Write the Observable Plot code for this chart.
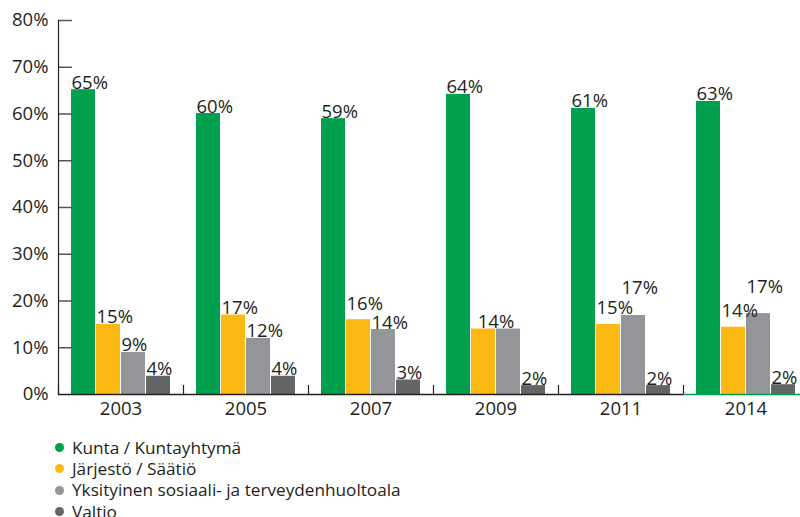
<!DOCTYPE html>
<html><head><meta charset="utf-8">
<script src="https://cdn.jsdelivr.net/npm/d3@7"></script>
<script src="https://cdn.jsdelivr.net/npm/@observablehq/plot@0.6"></script>
<style>
body{margin:0;background:#fff;font-family:"Open Sans",sans-serif;color:#231f20;}
#legend{margin-left:54.5px;padding-top:7px;}
.item{display:flex;align-items:center;height:21.3px;font-size:17.2px;white-space:nowrap;}
.item .lbl{display:block;line-height:20px;height:20px;}
.dot{width:9px;height:9px;border-radius:50%;margin-right:8.5px;flex:none;}
</style></head><body><div id="chart"></div><div id="legend"></div>
<script>
const years = ["2003","2005","2007","2009","2011","2014"];
const series = ["Kunta / Kuntayhtymä","Järjestö / Säätiö","Yksityinen sosiaali- ja terveydenhuoltoala","Valtio"];
const kunta = [65.2, 60.1, 59.0, 64.2, 61.2, 62.7];
const jarjesto = [15.0, 17.0, 16.0, 14.0, 15.0, 14.4];
const yksityinen = [9.0, 12.0, 13.9, 14.0, 16.9, 17.3];
const valtio = [3.9, 3.9, 3.1, 1.9, 1.9, 2.1];
const colors = ["#00a04f","#fdb913","#939598","#636466"];
const yTicks = [0,10,20,30,40,50,60,70,80];

const seriesValues = [kunta, jarjesto, yksityinen, valtio];
const rows = years.flatMap((year,i)=> series.map((s,j)=>({year, series:s, value:seriesValues[j][i]})));
const val = (year,j) => seriesValues[j][years.indexOf(year)];
const pct = d => Math.round(d.value) + "%";
const merged = d => Math.round(val(d.year,1)) === Math.round(val(d.year,2));
const crowded = d => val(d.year,2) > val(d.year,1) && !merged(d);
const close = d => val(d.year,1) > val(d.year,2) && val(d.year,1) - val(d.year,2) < 3;
const isMid = d => d.series === series[1] || d.series === series[2];
const special = d => (isMid(d) && (merged(d) || crowded(d))) || (d.series === series[1] && close(d));

const ink = "#231f20";
const fs = 18.5;
const textOpts = {fx:"year", x:"series", y:"value", text: pct, fill: ink, fontSize: fs, lineAnchor:"bottom"};

const chart = Plot.plot({
  width: 800, height: 430,
  marginLeft: 58, marginRight: -8, marginTop: 20, marginBottom: 36,
  style: {fontFamily: "Open Sans", fontSize: fs + "px", color: ink, background: "#fff"},
  fx: {domain: years, padding: 0, label: null},
  x: {domain: series, paddingInner: 0.04, paddingOuter: 0.5, axis: null},
  y: {domain: [0, 80], label: null},
  color: {domain: series, range: colors},
  marks: [
    Plot.barY(rows, {fx:"year", x:"series", y:"value", fill:"series"}),
    Plot.text(rows, {...textOpts, filter: d => !special(d), textAnchor:"start", dx:-12, dy:-1}),
    Plot.text(rows, {...textOpts, filter: d => d.series === series[1] && close(d), textAnchor:"start", dx:-12, dy:-10}),
    Plot.text(rows, {...textOpts, filter: d => d.series === series[1] && merged(d), textAnchor:"middle", dx:12.5, dy:-1}),
    Plot.text(rows, {...textOpts, filter: d => d.series === series[1] && crowded(d), textAnchor:"start", dx:-12, dy:-10}),
    Plot.text(rows, {...textOpts, filter: d => d.series === series[2] && crowded(d), textAnchor:"start", dx:-12, dy:-21}),
    Plot.axisY(yTicks, {tickSize: 0, tickPadding: 10, tickFormat: d => d + "%", fontSize: fs, label: null}),
    Plot.axisY(yTicks.slice(1), {tickSize: 14, dx: 14, tickFormat: () => "", stroke: "#555", strokeWidth: 1.5, label: null}),
    Plot.axisFx({anchor: "bottom", tickSize: 0, tickPadding: 7, fontSize: 18.5, label: null}),
    Plot.frame({anchor: "left", facetAnchor: "left", stroke: ink, strokeWidth: 1.2}),
    Plot.frame({anchor: "left", insetTop: 365, stroke: ink, strokeWidth: 1.2}),
    Plot.ruleY(years.filter(y => y !== "2014"), {fx: d => d, y: 0, stroke: ink, strokeWidth: 1.5}),
    Plot.ruleY(years.filter(y => y === "2014"), {fx: d => d, y: 0, stroke: colors[0], strokeWidth: 1.5})
  ]
});
document.getElementById("chart").appendChild(chart);

const legend = document.getElementById("legend");
series.forEach((s,i)=>{
  const item = document.createElement("div"); item.className = "item";
  const dot = document.createElement("span"); dot.className = "dot"; dot.style.background = colors[i];
  const label = document.createElement("span"); label.className = "lbl"; label.textContent = s;
  item.appendChild(dot); item.appendChild(label); legend.appendChild(item);
});
</script></body></html>
